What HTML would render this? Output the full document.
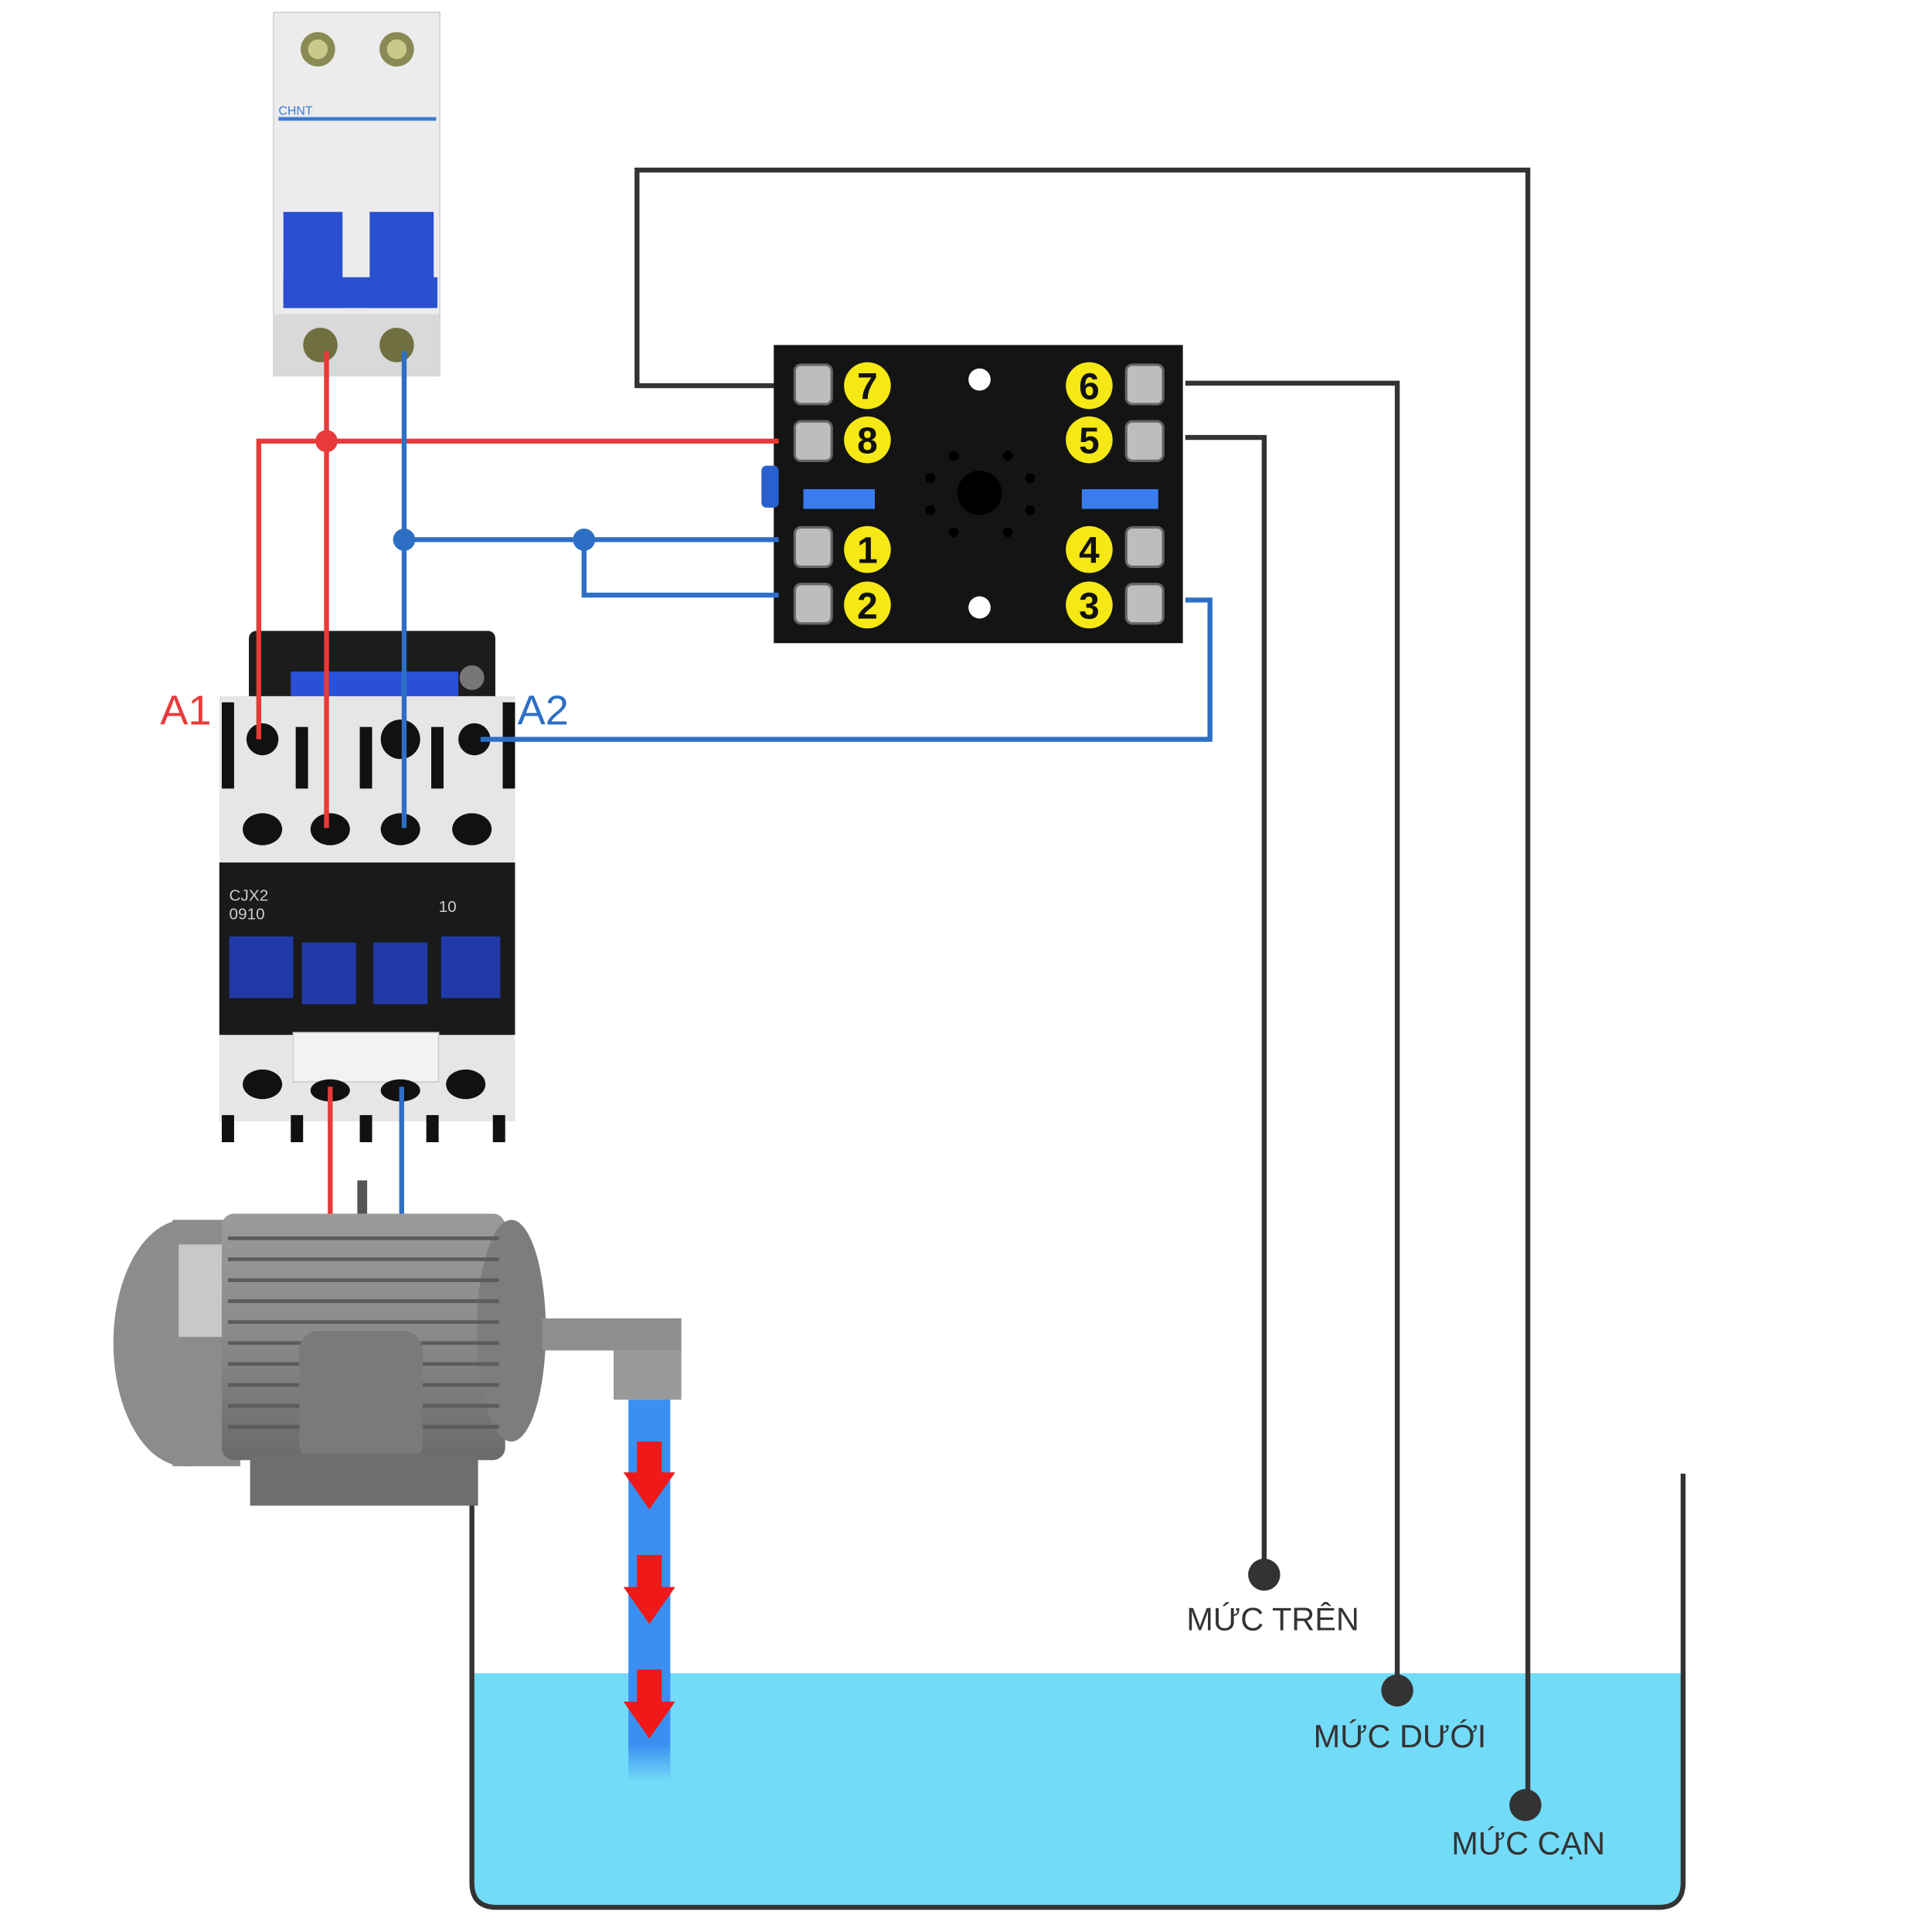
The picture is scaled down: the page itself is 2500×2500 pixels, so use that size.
<!DOCTYPE html>
<html><head><meta charset="utf-8"><style>
html,body{margin:0;padding:0;background:#fff;}
svg{display:block;}
text{font-family:"Liberation Sans",sans-serif;}
</style></head><body>
<svg width="2500" height="2500" viewBox="0 0 1568 1568" xmlns="http://www.w3.org/2000/svg">
<defs>
<linearGradient id="stream" x1="0" y1="0" x2="0" y2="1">
<stop offset="0" stop-color="#3b8ff0"/><stop offset="0.9" stop-color="#3b8ff0"/><stop offset="1" stop-color="#72dbf8"/>
</linearGradient>
<linearGradient id="motor" x1="0" y1="0" x2="0" y2="1">
<stop offset="0" stop-color="#9a9a9a"/><stop offset="0.5" stop-color="#8a8a8a"/><stop offset="1" stop-color="#6a6a6a"/>
</linearGradient>
</defs>
<rect width="1568" height="1568" fill="#fff"/>

<!-- water tank -->
<path d="M385,1358 H1366 V1530 Q1366,1548 1348,1548 H403 Q385,1548 385,1530 Z" fill="#72dbf8"/>
<path d="M383,1218 V1528 Q383,1548 403,1548 H1346 Q1366,1548 1366,1528 V1196" fill="none" stroke="#333" stroke-width="4"/>

<!-- black sensor wires -->
<g fill="none" stroke="#333" stroke-width="4">
<path d="M632,313 H517 V138 H1240 V1465"/>
<path d="M962,311 H1134 V1372"/>
<path d="M962,355 H1026 V1278"/>
</g>
<circle cx="1026" cy="1278" r="13" fill="#333"/>
<circle cx="1134" cy="1372" r="13" fill="#333"/>
<circle cx="1238" cy="1465" r="13" fill="#333"/>
<text x="963" y="1323" font-size="26" fill="#333">MỨC TRÊN</text>
<text x="1066" y="1418" font-size="26" fill="#333">MỨC DƯỚI</text>
<text x="1178" y="1505" font-size="26" fill="#333">MỨC CẠN</text>

<!-- breaker -->
<rect x="222" y="10" width="135" height="295" fill="#ececec" stroke="#d0d0d0"/>
<rect x="222" y="255" width="135" height="50" fill="#d9d9d9"/>
<circle cx="258" cy="40" r="14" fill="#8a8a55"/><circle cx="258" cy="40" r="8" fill="#c9c98a"/>
<circle cx="322" cy="40" r="14" fill="#8a8a55"/><circle cx="322" cy="40" r="8" fill="#c9c98a"/>
<rect x="226" y="95" width="128" height="3" fill="#3a7bd5"/>
<text x="226" y="93" font-size="10" fill="#3a7bd5">CHNT</text>
<rect x="230" y="172" width="48" height="78" fill="#2a4fd0"/>
<rect x="300" y="172" width="52" height="78" fill="#2a4fd0"/>
<rect x="230" y="225" width="125" height="25" fill="#2a4fd0"/>
<circle cx="260" cy="280" r="14" fill="#6f6f40"/><circle cx="322" cy="280" r="14" fill="#6f6f40"/>

<!-- relay base -->
<rect x="628" y="280" width="332" height="242" fill="#141414"/>
<rect x="618" y="378" width="14" height="34" fill="#2a5fd0" rx="4"/>
<rect x="652" y="397" width="58" height="16" fill="#3a7bf0"/>
<rect x="878" y="397" width="62" height="16" fill="#3a7bf0"/>
<circle cx="795" cy="308" r="9" fill="#fff"/><circle cx="795" cy="493" r="9" fill="#fff"/>
<circle cx="795" cy="400" r="18" fill="#000"/>
<g fill="#000"><circle cx="774" cy="370" r="4"/><circle cx="818" cy="370" r="4"/><circle cx="774" cy="432" r="4"/><circle cx="818" cy="432" r="4"/><circle cx="755" cy="388" r="4"/><circle cx="836" cy="388" r="4"/><circle cx="755" cy="414" r="4"/><circle cx="836" cy="414" r="4"/></g>
<g fill="#bdbdbd" stroke="#666" stroke-width="2">
<rect x="645" y="296" width="30" height="32" rx="5"/><rect x="645" y="342" width="30" height="32" rx="5"/>
<rect x="645" y="428" width="30" height="32" rx="5"/><rect x="645" y="474" width="30" height="32" rx="5"/>
<rect x="914" y="296" width="30" height="32" rx="5"/><rect x="914" y="342" width="30" height="32" rx="5"/>
<rect x="914" y="428" width="30" height="32" rx="5"/><rect x="914" y="474" width="30" height="32" rx="5"/>
</g>
<g fill="#f5e814"><circle cx="704" cy="313" r="19"/><circle cx="704" cy="357" r="19"/><circle cx="704" cy="446" r="19"/><circle cx="704" cy="491" r="19"/><circle cx="884" cy="313" r="19"/><circle cx="884" cy="357" r="19"/><circle cx="884" cy="446" r="19"/><circle cx="884" cy="491" r="19"/></g>
<g font-size="30" font-weight="bold" fill="#111" text-anchor="middle">
<text x="704" y="324">7</text><text x="704" y="368">8</text><text x="704" y="457">1</text><text x="704" y="502">2</text>
<text x="884" y="324">6</text><text x="884" y="368">5</text><text x="884" y="457">4</text><text x="884" y="502">3</text>
</g>

<!-- contactor -->
<rect x="202" y="512" width="200" height="60" fill="#1c1c1c" rx="6"/>
<rect x="236" y="545" width="136" height="20" fill="#2a50d8"/>
<circle cx="383" cy="550" r="10" fill="#777"/>
<rect x="178" y="565" width="240" height="135" fill="#e6e6e6"/>
<g fill="#111"><rect x="180" y="570" width="10" height="70"/><rect x="240" y="590" width="10" height="50"/><rect x="292" y="590" width="10" height="50"/><rect x="350" y="590" width="10" height="50"/><rect x="408" y="570" width="10" height="70"/></g>
<g fill="#111"><circle cx="213" cy="600" r="13"/><circle cx="325" cy="600" r="16"/><circle cx="385" cy="600" r="13"/>
<ellipse cx="213" cy="673" rx="16" ry="13"/><ellipse cx="268" cy="673" rx="16" ry="13"/><ellipse cx="325" cy="673" rx="16" ry="13"/><ellipse cx="383" cy="673" rx="16" ry="13"/></g>
<rect x="178" y="700" width="240" height="140" fill="#1a1a1a"/>
<text x="186" y="731" font-size="13" fill="#ccc">CJX2</text><text x="186" y="746" font-size="13" fill="#ccc">0910</text>
<text x="356" y="740" font-size="13" fill="#ccc">10</text>
<g fill="#1f3aa8"><rect x="186" y="760" width="52" height="50"/><rect x="245" y="765" width="44" height="50"/><rect x="303" y="765" width="44" height="50"/><rect x="358" y="760" width="48" height="50"/></g>
<rect x="178" y="840" width="240" height="70" fill="#e6e6e6"/>
<rect x="238" y="838" width="118" height="40" fill="#f2f2f2" stroke="#ccc"/>
<g fill="#111"><ellipse cx="213" cy="880" rx="16" ry="12"/><ellipse cx="268" cy="885" rx="16" ry="9"/><ellipse cx="325" cy="885" rx="16" ry="9"/><ellipse cx="378" cy="880" rx="16" ry="12"/>
<rect x="180" y="905" width="10" height="22"/><rect x="236" y="905" width="10" height="22"/><rect x="292" y="905" width="10" height="22"/><rect x="346" y="905" width="10" height="22"/><rect x="400" y="905" width="10" height="22"/></g>

<!-- motor -->
<rect x="290" y="958" width="8" height="30" fill="#555"/>
<ellipse cx="150" cy="1090" rx="58" ry="100" fill="#8c8c8c"/>
<rect x="140" y="990" width="55" height="200" fill="#8c8c8c"/>
<rect x="145" y="1010" width="35" height="75" fill="#c8c8c8"/>
<rect x="180" y="985" width="230" height="200" fill="url(#motor)" rx="10"/>
<ellipse cx="415" cy="1080" rx="28" ry="90" fill="#7d7d7d"/>
<g stroke="#5c5c5c" stroke-width="3"><line x1="185" y1="1005" x2="405" y2="1005"/><line x1="185" y1="1022" x2="405" y2="1022"/><line x1="185" y1="1039" x2="405" y2="1039"/><line x1="185" y1="1056" x2="405" y2="1056"/><line x1="185" y1="1073" x2="405" y2="1073"/><line x1="185" y1="1090" x2="405" y2="1090"/><line x1="185" y1="1107" x2="405" y2="1107"/><line x1="185" y1="1124" x2="405" y2="1124"/><line x1="185" y1="1141" x2="405" y2="1141"/><line x1="185" y1="1158" x2="405" y2="1158"/></g>
<rect x="243" y="1080" width="100" height="108" fill="#7a7a7a" rx="16"/>
<rect x="203" y="1180" width="185" height="42" fill="#6e6e6e"/>
<rect x="440" y="1070" width="113" height="26" fill="#8e8e8e"/>
<rect x="498" y="1096" width="55" height="40" fill="#999"/>

<!-- pump stream -->
<rect x="510" y="1136" width="34" height="310" fill="url(#stream)"/>
<g fill="#f01818">
<path d="M517,1170 H537 V1195 H548 L527,1225 L506,1195 H517 Z"/>
<path d="M517,1262 H537 V1288 H548 L527,1318 L506,1288 H517 Z"/>
<path d="M517,1355 H537 V1381 H548 L527,1411 L506,1381 H517 Z"/>
</g>

<!-- red wires -->
<g fill="none" stroke="#e83a3a" stroke-width="4">
<path d="M265,285 V672"/>
<path d="M632,358 H210 V600"/>
<path d="M268,882 V985"/>
</g>
<circle cx="265" cy="358" r="9" fill="#e83a3a"/>
<!-- blue wires -->
<g fill="none" stroke="#2d6fc4" stroke-width="4">
<path d="M328,285 V672"/>
<path d="M328,438 H632"/>
<path d="M474,438 V483 H632"/>
<path d="M390,600 H982 V487 H962"/>
<path d="M326,882 V985"/>
</g>
<circle cx="328" cy="438" r="9" fill="#2d6fc4"/>
<circle cx="474" cy="438" r="9" fill="#2d6fc4"/>

<text x="130" y="588" font-size="34" fill="#e83a3a">A1</text>
<text x="420" y="588" font-size="34" fill="#2d6fc4">A2</text>
</svg>
</body></html>
